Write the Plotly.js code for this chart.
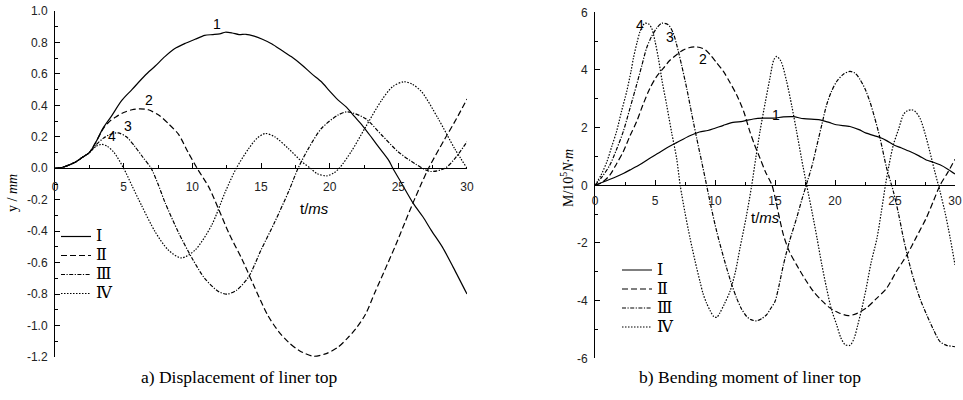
<!DOCTYPE html>
<html>
<head>
<meta charset="utf-8">
<script src="https://cdn.plot.ly/plotly-3.0.1.min.js"></script>
<style>html,body{margin:0;padding:0;background:#fff;}#chart{width:963px;height:400px;}</style>
</head>
<body>
<div id="chart"></div>
<script>
// ---------- data: a) displacement y (mm) vs t (ms) ----------
const seriesNames = ["Ⅰ", "Ⅱ", "Ⅲ", "Ⅳ"];

const dispT1 = [0,0.5,1,1.5,2,2.5,3,3.5,4.1,4.85,5.6,6.55,7.3,8.0,8.7,9.5,10.2,10.9,11.5,12.0,12.4,12.9,13.4,13.9,14.5,15.1,15.8,16.5,17.2,18.0,18.7,19.4,20.0,20.6,21.2,21.8,22.4,23.1,23.7,24.3,24.6,25.2,26.1,26.8,27.4,28.2,29.0,30.0];
const dispY1 = [0,0.005,0.02,0.04,0.07,0.1,0.17,0.255,0.33,0.43,0.5,0.59,0.65,0.71,0.76,0.795,0.82,0.845,0.85,0.855,0.865,0.86,0.85,0.852,0.84,0.82,0.79,0.75,0.71,0.655,0.6,0.55,0.49,0.435,0.39,0.33,0.27,0.19,0.12,0.05,0.0,-0.09,-0.225,-0.31,-0.395,-0.5,-0.63,-0.80];

const dispT2 = [0,0.5,1,1.5,2,2.5,3,3.5,4,4.5,5,5.6,6.2,6.8,7.6,8.3,9.0,9.7,10.35,11.2,11.9,12.7,13.6,14.5,15.5,16.3,17.0,17.8,18.8,19.7,20.6,21.3,21.9,22.6,23.3,24.0,24.8,25.5,26.2,27.2,28.4,29.2,30];
const dispY2 = [0,0.005,0.02,0.04,0.07,0.1,0.17,0.25,0.30,0.33,0.355,0.372,0.378,0.372,0.335,0.28,0.215,0.1,0.0,-0.12,-0.257,-0.42,-0.575,-0.75,-0.936,-1.04,-1.106,-1.16,-1.195,-1.18,-1.138,-1.08,-1.021,-0.93,-0.788,-0.65,-0.49,-0.34,-0.193,0.0,0.189,0.31,0.44];

const dispT3 = [0,0.5,1,1.5,2,2.5,3,3.5,4,4.6,5.2,5.8,6.4,7.0,7.5,8.0,9.0,10.0,10.9,11.9,12.5,13.2,14.1,15.0,16.0,17.0,17.7,18.45,19.4,20.6,21.3,22.6,23.8,25.0,26.2,27.3,28.4,29.1,30];
const dispY3 = [0,0.005,0.02,0.04,0.07,0.1,0.15,0.19,0.215,0.225,0.2,0.14,0.07,0.0,-0.1,-0.215,-0.41,-0.575,-0.7,-0.783,-0.80,-0.777,-0.69,-0.52,-0.342,-0.15,0.0,0.125,0.253,0.338,0.359,0.316,0.21,0.104,0.03,-0.02,0.0,0.06,0.168];

const dispT4 = [0,0.5,1,1.5,2,2.5,3,3.4,3.8,4.3,5.0,5.6,6.3,7.3,8.25,9.2,10.2,11.4,12.4,13.2,14.1,14.7,15.3,16.0,17.0,18.0,18.6,19.1,19.8,20.3,20.7,21.6,22.6,23.8,24.6,25.4,26.0,26.7,27.9,29.1,30];
const dispY4 = [0,0.005,0.02,0.04,0.07,0.1,0.14,0.152,0.14,0.1,0.0,-0.11,-0.236,-0.405,-0.52,-0.57,-0.52,-0.363,-0.15,0.0,0.125,0.19,0.221,0.2,0.125,0.04,0.0,-0.035,-0.048,-0.03,0.0,0.11,0.26,0.435,0.52,0.55,0.535,0.486,0.316,0.125,0.0];

// ---------- data: b) bending moment M (10^5 N·m) vs t (ms) ----------
const momT1 = [0,1.2,2.4,3.0,3.75,4.5,5.3,6.0,6.8,7.9,8.7,9.4,10.0,10.7,11.5,12.3,13.2,14.0,14.9,15.7,16.5,17.4,18.75,19.5,20.1,21.25,22.0,22.6,23.75,24.3,24.9,25.5,26.25,27.0,27.6,28.2,28.75,29.4,30];
const momY1 = [0,0.2,0.42,0.55,0.72,0.92,1.12,1.3,1.48,1.72,1.85,1.9,1.98,2.08,2.18,2.22,2.3,2.33,2.33,2.37,2.38,2.31,2.27,2.18,2.1,2.04,1.93,1.81,1.66,1.55,1.4,1.3,1.17,1.02,0.88,0.8,0.71,0.56,0.39];

const momT2 = [0,0.6,1.25,1.8,2.36,2.9,3.47,4.0,4.58,5.1,5.7,6.2,6.8,7.3,7.9,8.4,8.75,9.2,9.6,10.1,10.7,11.2,11.8,12.4,12.9,13.3,13.75,14.2,14.75,15.2,15.7,16.2,16.8,17.5,18.2,18.9,19.6,20.3,21.1,21.8,22.6,23.4,24.3,25.1,26.0,26.8,27.6,28.2,28.75,29.4,30];
const momY2 = [0,0.1,0.36,0.75,1.17,1.7,2.21,2.8,3.37,3.75,4.06,4.32,4.53,4.68,4.78,4.8,4.78,4.7,4.53,4.27,3.95,3.6,3.14,2.55,1.87,1.4,0.94,0.47,0.0,-0.8,-1.72,-2.3,-2.76,-3.25,-3.68,-4.0,-4.26,-4.42,-4.52,-4.45,-4.26,-3.95,-3.57,-3.0,-2.41,-1.78,-1.14,-0.55,0.0,0.45,0.9];

const momT3 = [0,0.6,1.25,1.8,2.36,2.9,3.47,3.9,4.3,4.7,5.14,5.56,6.1,6.5,6.81,7.2,7.64,8.05,8.47,8.9,9.3,9.7,10.14,10.55,10.97,11.4,11.8,12.2,12.64,13.0,13.47,13.9,14.3,14.6,15.0,15.35,15.7,16.2,16.8,17.2,17.6,18.1,18.5,18.9,19.3,19.7,20.14,20.7,21.25,21.7,22.1,22.5,22.9,23.3,23.75,24.3,24.86,25.3,25.7,26.1,26.53,27.1,27.64,28.2,28.75,29.3,29.86,30];
const momY3 = [0,0.3,0.71,1.25,1.87,2.65,3.49,4.15,4.76,5.15,5.45,5.62,5.57,5.3,4.87,4.2,3.37,2.5,1.64,0.8,0.0,-0.8,-1.6,-2.25,-2.87,-3.45,-3.91,-4.28,-4.55,-4.66,-4.70,-4.62,-4.49,-4.3,-4.03,-3.45,-2.76,-1.95,-1.14,-0.55,0.0,0.7,1.4,2.1,2.79,3.25,3.6,3.85,3.95,3.88,3.66,3.35,2.91,2.35,1.64,0.6,-0.21,-1.0,-1.83,-2.55,-3.22,-3.95,-4.49,-5.0,-5.42,-5.55,-5.59,-5.6];

const momT4 = [0,0.5,1.0,1.4,1.8,2.2,2.64,3.0,3.2,3.5,3.75,4.0,4.17,4.45,4.72,5.0,5.28,5.6,5.97,6.4,6.8,7.1,7.5,7.92,8.35,8.75,9.0,9.3,9.6,9.9,10.15,10.4,10.8,11.25,11.7,12.08,12.6,13.06,13.4,13.75,14.2,14.58,14.9,15.14,15.5,15.97,16.4,16.8,17.2,17.64,18.1,18.5,18.9,19.3,19.7,20.14,20.5,20.86,21.25,21.6,21.9,22.25,22.6,23.0,23.5,23.85,24.2,24.5,24.86,25.3,25.7,26.0,26.4,26.7,27.08,27.5,27.9,28.3,28.75,29.2,29.6,30];
const momY4 = [0,0.35,0.83,1.35,1.87,2.55,3.25,3.95,4.41,4.95,5.33,5.55,5.62,5.6,5.45,5.0,4.41,3.6,2.79,1.8,0.94,0.0,-0.95,-1.83,-2.65,-3.34,-3.75,-4.09,-4.35,-4.55,-4.58,-4.43,-4.1,-3.68,-3.0,-2.18,-1.1,0.0,0.95,1.87,2.9,3.72,4.35,4.47,4.3,3.6,2.75,1.87,0.95,0.0,-0.95,-1.83,-2.75,-3.57,-4.3,-4.84,-5.3,-5.53,-5.55,-5.3,-4.84,-4.25,-3.57,-2.7,-1.83,-0.95,0.0,0.7,1.4,1.95,2.45,2.58,2.62,2.55,2.33,1.8,1.17,0.5,-0.21,-1.0,-1.83,-2.76];

// ---------- ticks ----------
const xTickVals = [0,5,10,15,20,25,30];
const dispTickVals = [-1.2,-1.0,-0.8,-0.6,-0.4,-0.2,0.0,0.2,0.4,0.6,0.8,1.0];
const dispTickText = ["-1.2","-1.0","-0.8","-0.6","-0.4","-0.2","0.0","0.2","0.4","0.6","0.8","1.0"];
const momTickVals = [-6,-4,-2,0,2,4,6];
const momTickText = ["-6","-4","-2","0","2","4","6"];

// curve labels "1".."4" (data coords)
const dispLabelText = ["1","2","3","4"];
const dispLabelT = [11.8, 6.85, 5.3, 4.15];
const dispLabelY = [0.92, 0.435, 0.27, 0.205];
const momLabelText = ["4","3","2","1"];
const momLabelT = [3.75, 6.25, 9.0, 15.05];
const momLabelY = [5.57, 5.15, 4.39, 2.45];

// ---------- styling / geometry ----------
const W = 963, H = 400;
const px = v => v / W;
const py = v => 1 - v / H;
const dashes = ["solid", "6px,3px", "4px,1.5px,1.2px,1.5px", "1.5px,1.5px"];
const lw = 1.2;
const SANS = "Liberation Sans, Arial, sans-serif";
const SERIF = "Liberation Serif, DejaVu Serif, Times New Roman, serif";
const legendName = s => '<span style="font-size:16px">' + s + '</span>';

const dispRange = [-1.2, 1.0], momRange = [-6, 6];
const yDom1 = [py(357), py(11)], yDom2 = [py(358.3), py(12.3)];
const zeroPos = (r, d) => d[0] + (0 - r[0]) / (r[1] - r[0]) * (d[1] - d[0]);

const dispT = [dispT1, dispT2, dispT3, dispT4], dispY = [dispY1, dispY2, dispY3, dispY4];
const momT = [momT1, momT2, momT3, momT4], momY = [momY1, momY2, momY3, momY4];

const traces = [];
for (let i = 0; i < 4; i++) {
  traces.push({x: dispT[i], y: dispY[i], xaxis: "x", yaxis: "y", mode: "lines", name: legendName(seriesNames[i]),
    legend: "legend", line: {color: "#000", width: lw, dash: dashes[i], shape: "spline", smoothing: 0.8}});
}
for (let i = 0; i < 4; i++) {
  traces.push({x: momT[i], y: momY[i], xaxis: "x2", yaxis: "y2", mode: "lines", name: legendName(seriesNames[i]),
    legend: "legend2", line: {color: "#000", width: lw, dash: dashes[i], shape: "spline", smoothing: 0.8}});
}

function xAx(dom, pos, standoff) {
  return {domain: dom, range: [0, 30], anchor: "free", position: pos, showgrid: false, zeroline: false,
    showline: true, linecolor: "#000", linewidth: 1, ticks: "inside", ticklen: 5, tickwidth: 1, tickcolor: "#000",
    tickmode: "array", tickvals: xTickVals, ticklabelstandoff: standoff,
    minor: {dtick: 2.5, tick0: 0, ticks: "inside", ticklen: 3, tickwidth: 1, tickcolor: "#000"},
    tickfont: {family: SANS, size: 12, color: "#222"}, automargin: false, fixedrange: true};
}
function yAx(dom, r, tv, tt, minorD, anchor) {
  return {domain: dom, range: r, anchor: anchor, showgrid: false, zeroline: false,
    showline: true, linecolor: "#000", linewidth: 1, ticks: "inside", ticklen: 5, tickwidth: 1, tickcolor: "#000",
    tickmode: "array", tickvals: tv, ticktext: tt, ticklabelstandoff: 4,
    minor: {dtick: minorD, tick0: 0, ticks: "inside", ticklen: 3, tickwidth: 1, tickcolor: "#000"},
    tickfont: {family: SANS, size: 12, color: "#222"}, automargin: false, fixedrange: true};
}

const annotations = [];
for (let i = 0; i < 4; i++) {
  annotations.push({xref: "x", yref: "y", x: dispLabelT[i], y: dispLabelY[i], text: dispLabelText[i], showarrow: false,
    font: {family: SANS, size: 14, color: "#000"}});
  annotations.push({xref: "x2", yref: "y2", x: momLabelT[i], y: momLabelY[i], text: momLabelText[i], showarrow: false,
    font: {family: SANS, size: 14, color: "#000"}});
}
const paperText = (x, y, text, font, size, angle) => ({xref: "paper", yref: "paper", x: px(x), y: py(y), text: text,
  showarrow: false, xanchor: "center", yanchor: "middle", textangle: angle || 0, font: {family: font, size: size, color: "#000"}});
annotations.push(paperText(13, 193, "y / <i>mm</i>", SERIF, 14, -90));
annotations.push(paperText(567, 178, "M/10<sup>5</sup><i>N·m</i>", SERIF, 14, -90));
annotations.push(paperText(314, 208, "t/<i>ms</i>", SANS, 15));
annotations.push(paperText(765, 217, "t/<i>ms</i>", SANS, 15));
annotations.push(paperText(239, 377, "a) Displacement of liner top", SERIF, 17.5));
annotations.push(paperText(750, 377, "b) Bending moment of liner top", SERIF, 17.5));

const legendCommon = {bgcolor: "rgba(0,0,0,0)", borderwidth: 0, xanchor: "left", yanchor: "top",
  font: {family: SERIF, size: 12.3, color: "#000"}, tracegroupgap: 0};

const layout = {
  width: W, height: H, margin: {l: 0, r: 0, t: 0, b: 0}, paper_bgcolor: "#fff", plot_bgcolor: "rgba(0,0,0,0)",
  showlegend: true,
  xaxis: xAx([px(55), px(467)], zeroPos(dispRange, yDom1), 7),
  yaxis: yAx(yDom1, dispRange, dispTickVals, dispTickText, 0.1, "x"),
  xaxis2: xAx([px(595), px(955)], zeroPos(momRange, yDom2), 4),
  yaxis2: yAx(yDom2, momRange, momTickVals, momTickText, 1, "x2"),
  legend: Object.assign({x: px(56), y: py(222)}, legendCommon),
  legend2: Object.assign({x: px(617), y: py(255.5)}, legendCommon),
  annotations: annotations
};

Plotly.newPlot("chart", traces, layout, {displayModeBar: false, staticPlot: true});
</script>
</body>
</html>
